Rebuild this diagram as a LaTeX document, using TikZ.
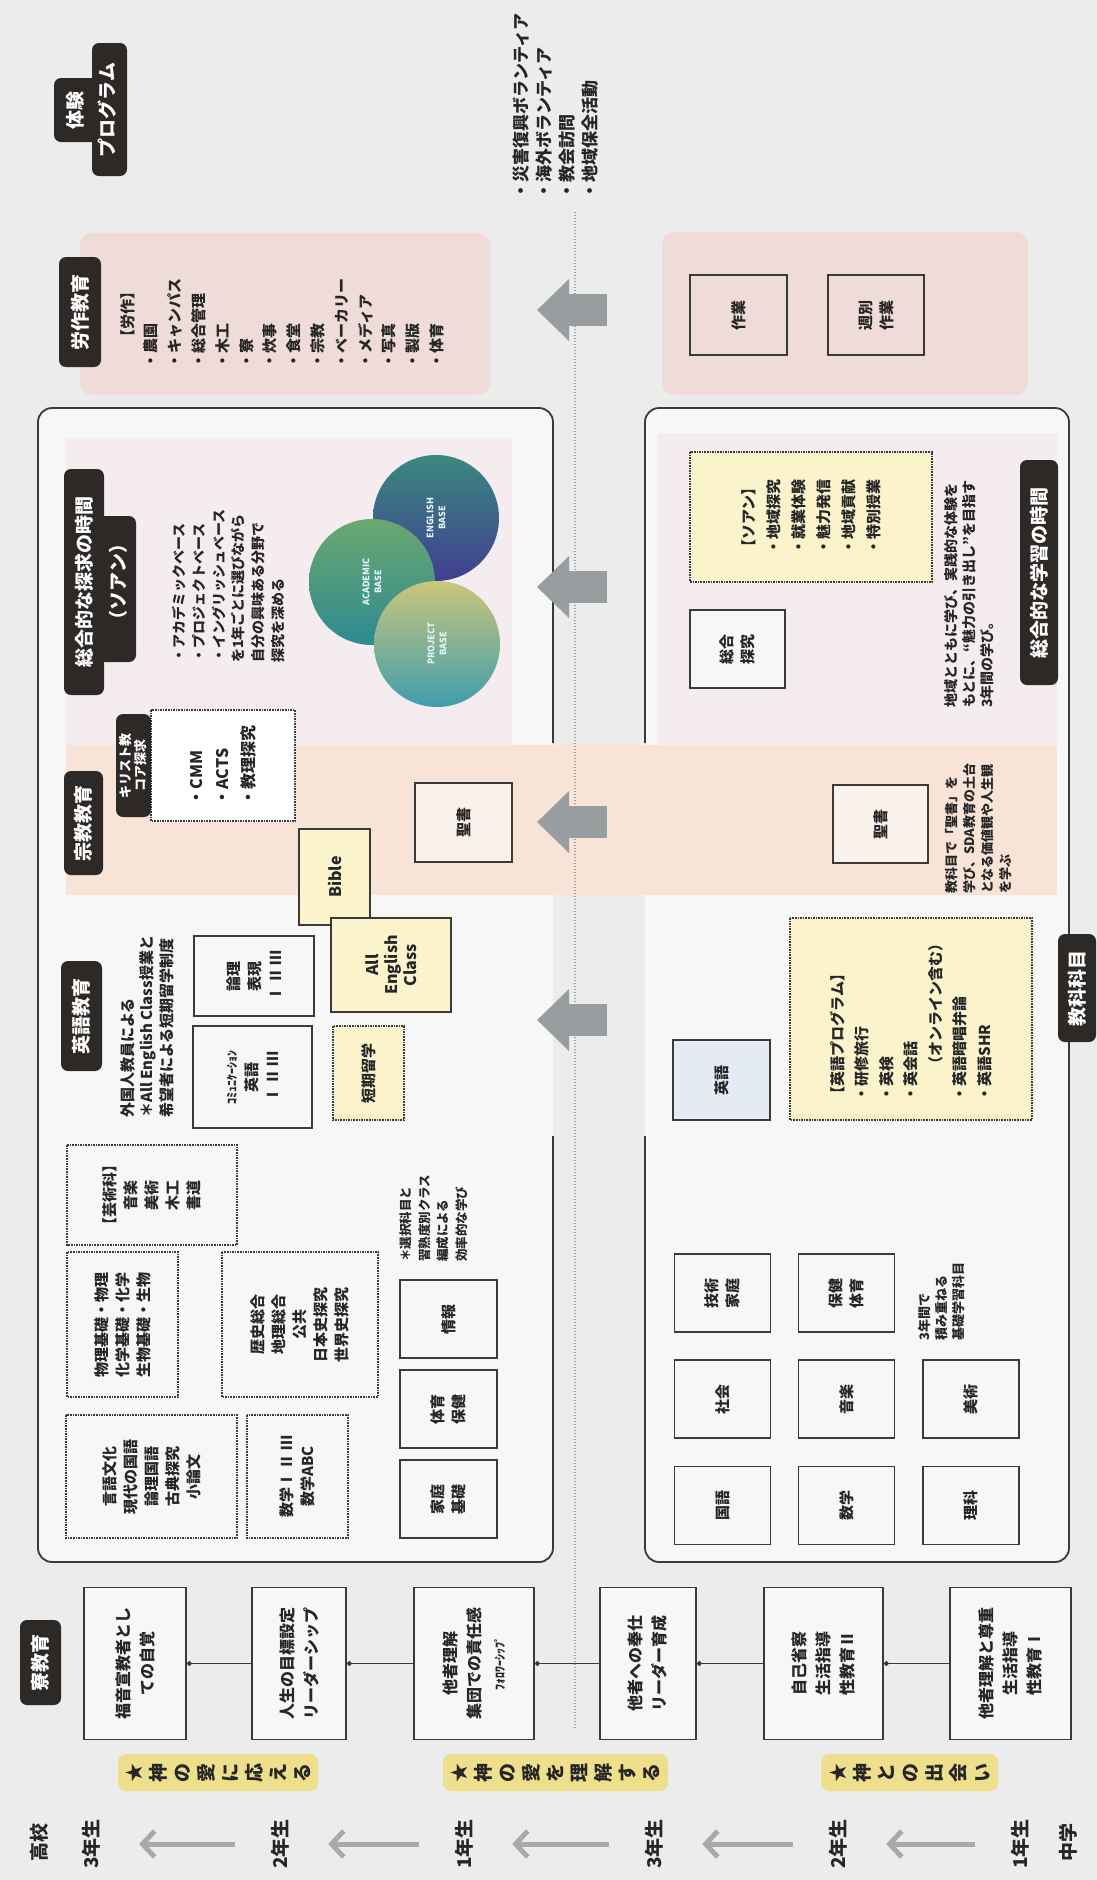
\documentclass[tikz,border=0pt]{standalone}
\usepackage{fontspec}
\setmainfont{Noto Sans CJK JP}
\usetikzlibrary{arrows.meta}
\newcommand\myfs[2]{\fontsize{#1}{#2}\selectfont}
\definecolor{bgc}{HTML}{ECECEC}
\definecolor{boxw}{HTML}{F7F7F7}
\definecolor{linec}{HTML}{3A3A3A}
\definecolor{txtc}{HTML}{262626}
\definecolor{tagc}{HTML}{2D2927}
\definecolor{yel}{HTML}{FAF3CC}
\definecolor{ylw}{HTML}{EEDF8C}
\definecolor{pinkp}{HTML}{EFDCD8}
\definecolor{peach}{HTML}{F8E3D7}
\definecolor{sogop}{HTML}{F4ECEF}
\definecolor{arrc}{HTML}{A6AAAD}
\definecolor{bigc}{HTML}{989DA0}
\definecolor{engT}{HTML}{3A897F}
\definecolor{engB}{HTML}{403E90}
\definecolor{acaT}{HTML}{6BA76F}
\definecolor{acaB}{HTML}{2D8A91}
\definecolor{proT}{HTML}{CBC679}
\definecolor{proB}{HTML}{3F9DAD}
\definecolor{ltblue}{HTML}{E4EBF4}
\definecolor{divc}{HTML}{A0A0A0}
\begin{document}
\begin{tikzpicture}[x=1pt,y=-1pt,
  sz/.style 2 args={minimum width=#2, minimum height=#1},
  every node/.style={text=txtc},
  sbox/.style={rotate=90, draw=linec, line width=1.6pt, fill=boxw, align=center, inner sep=1pt, font=\bfseries\myfs{15}{21}},
  dbox/.style={sbox, densely dotted},
  tag/.style={rotate=90, fill=tagc, text=white, rounded corners=7pt, inner sep=2pt, align=center, font=\bfseries\myfs{19}{22}},
  ttext/.style={rotate=90, text=white, inner sep=0pt, align=center, font=\bfseries\myfs{19}{32}},
  ylab/.style={rotate=90, fill=ylw, rounded corners=8pt, align=center, inner sep=1pt, font=\bfseries\myfs{19}{24}},
  ltxt/.style={rotate=90, anchor=north west, align=left, inner sep=0pt, font=\bfseries\myfs{15}{23}},
  grade/.style={rotate=90, inner sep=2pt, font=\bfseries\myfs{19}{22}},
  panel/.style={rotate=90, fill=pinkp, rounded corners=12pt, inner sep=0pt},
  ctext/.style={rotate=90, align=center, text=white!88!cyan, font=\bfseries\myfs{9}{12}},
  circ/.style={circle, minimum size=126pt, inner sep=0pt},
  frame/.style={draw=linec, line width=1.8pt, rounded corners=14pt},
  conn/.style={draw=linec, line width=1.3pt, {Circle[length=5pt]}-},
  tl/.style={draw=arrc, line width=5pt, -{Straight Barb[length=12pt,width=26pt]}, shorten <=34pt, shorten >=37pt},
  bigarr/.style={draw=bigc, line width=32pt, -{Triangle[length=32pt,width=60pt]}}
]
\fill[bgc] (0,0) rectangle (1097,1880);
\useasboundingbox (0,0) rectangle (1097,1880);

% panels and frames
\node[panel, sz={410}{162}] (hslab) at (285,314) {};
\node[panel, sz={366}{163}] (mslab) at (845,313.5) {};
\fill[boxw, rounded corners=14pt] (38,408) rectangle (553,1562);
\fill[boxw, rounded corners=14pt] (645,408) rectangle (1069,1562);
\fill[sogop] (66,438) rectangle (512,745);
\fill[sogop] (657,433) rectangle (1057,745);
\fill[peach] (66,745) rectangle (1057,895);
\draw[frame] (553,743) -- (553,408) -- (38,408) -- (38,1562) -- (553,1562) -- (553,1136);
\draw[frame] (645,743) -- (645,408) -- (1069,408) -- (1069,1562) -- (645,1562) -- (645,1136);
\draw[divc, line width=2.2pt, dash pattern=on 1.2pt off 1.8pt] (575,212) -- (575,1730);

% tags
\fill[tagc, rounded corners=7pt] (54,78) rectangle (100,142);
\fill[tagc, rounded corners=7pt] (92,43) rectangle (127,176);
\node[ttext] (tTaiken) at (91,110) {体験\\プログラム};
\node[tag, sz={42}{110}] (tRosaku) at (80,312) {労作教育};
\fill[tagc, rounded corners=7pt] (64,469) rectangle (104,695);
\fill[tagc, rounded corners=7pt] (98,516) rectangle (136,662);
\node[ttext, font=\bfseries\myfs{19}{34}] (tSogo) at (101,582) {総合的な探求の時間\\（ソアン）};
\node[tag, sz={39}{104}] (tShukyo) at (83.5,823) {宗教教育};
\node[tag, sz={41}{110}] (tEigo) at (81.5,1016) {英語教育};
\node[tag, sz={41}{85}] (tRyo) at (40.5,1662.5) {寮教育};

% experience program list
\node[ltxt, font=\bfseries\myfs{17}{23}] (taikenList) at (513,200) {・災害復興ボランティア\\・海外ボランティア\\・教会訪問\\・地域保全活動};

% labour list
\node[ltxt, font=\bfseries\myfs{15}{23.8}] (rosakuList) at (120,369) {\hspace*{1.6em}【労作】\\・農園\\・キャンパス\\・総合管理\\・木工\\・寮\\・炊事\\・食堂\\・宗教\\・ベーカリー\\・メディア\\・写真\\・製版\\・体育};
\node[sbox, sz={97}{80}, fill=pinkp] (bSagyo) at (738.5,315) {作業};
\node[sbox, sz={96}{80}, fill=pinkp] (bShubetsu) at (876,315) {週別\\作業};

% high school sogo
\node[ltxt, font=\bfseries\myfs{14}{19.8}] (sogoText) at (172,663) {・アカデミックベース\\・プロジェクトベース\\・イングリッシュベース\\を1年ごとに選びながら\\自分の興味ある分野で\\探究を深める};
\node[circ, top color=engT, bottom color=engB] (cEng) at (436,518) {};
\node[circ, top color=acaT, bottom color=acaB] (cAca) at (372,582) {};
\node[circ, top color=proT, bottom color=proB] (cPro) at (437,644) {};
\node[ctext] (tEng) at (cEng) {ENGLISH\\BASE};
\node[ctext] (tAca) at (cAca) {ACADEMIC\\BASE};
\node[ctext] (tPro) at (cPro) {PROJECT\\BASE};

% religion
\node[dbox, fill=white, sz={144}{111}, align=left, font=\bfseries\myfs{16}{26}] (bCMM) at (223,765.5) {・CMM\\・ACTS\\・教理探究};
\node[tag, sz={35}{103}, font=\bfseries\myfs{13}{15}, inner sep=1pt] (tChrist) at (133.5,765.5) {キリスト教\\コア探求};
\node[sbox, sz={97}{79}, fill=peach!50!white] (bSeishoH) at (463.5,822.5) {聖書};
\node[sbox, fill=yel, sz={71}{96}, font=\bfseries\myfs{16}{20}] (bBible) at (334.5,877) {Bible};

% english HS
\node[sbox, fill=yel, sz={120}{94}, font=\bfseries\myfs{16}{19}] (bAEC) at (391,965) {All\\English\\Class};
\node[sbox, sz={120}{80}] (bRonri) at (254,976) {論理\\表現\\Ⅰ Ⅱ Ⅲ};
\node[sbox, sz={119}{102}] (bComm) at (252.5,1077) {{\myfs{12}{21}ｺﾐｭﾆｹｰｼｮﾝ}\\英語\\Ⅰ Ⅱ Ⅲ};
\node[dbox, fill=yel, sz={71}{94}] (bTanki) at (368.5,1073) {短期留学};
\node[ltxt, font=\bfseries\myfs{15}{19.5}] (eNote) at (120,1118) {外国人教員による\\＊All English Class授業と\\希望者による短期留学制度};

% subjects HS
\node[dbox, sz={170}{100}] (bGei) at (152,1195) {【芸術科】\\音楽\\美術\\木工\\書道};
\node[dbox, sz={111}{145}] (bRika) at (122.5,1324.5) {物理基礎・物理\\化学基礎・化学\\生物基礎・生物};
\node[dbox, sz={156}{145}] (bShakai) at (300,1324.5) {歴史総合\\地理総合\\公共\\日本史探究\\世界史探究};
\node[dbox, sz={171}{123}] (bGengo) at (151.5,1476.5) {言語文化\\現代の国語\\論理国語\\古典探究\\小論文};
\node[dbox, sz={101}{123}] (bMath) at (297.5,1476.5) {数学Ⅰ Ⅱ Ⅲ\\数学ABC};
\node[sbox, sz={97}{78}] (bJoho) at (448.5,1319) {情報};
\node[sbox, sz={97}{78}] (bTaiiku) at (448.5,1409) {体育\\保健};
\node[sbox, sz={97}{78}] (bKatei) at (448.5,1499) {家庭\\基礎};
\node[ltxt, font=\bfseries\myfs{12.5}{18.5}] (selNote) at (400,1262) {＊選択科目と\\習熟度別クラス\\編成による\\効率的な学び};

% middle school sogo
\node[dbox, fill=yel, sz={242}{130}, align=left, font=\bfseries\myfs{15}{25}] (bSoan) at (811,517) {【ソアン】\\・地域探究\\・就業体験\\・魅力発信\\・地域貢献\\・特別授業};
\node[sbox, sz={95}{78}] (bSogoM) at (737.5,649) {総合\\探究};
\node[ltxt, font=\bfseries\myfs{14}{18}] (sogoMText) at (944,708) {地域とともに学び、実践的な体験を\\もとに、“魅力の引き出し”を目指す\\3年間の学び。};
\node[tag, sz={38}{225}] (tSogoM) at (1039,572.5) {総合的な学習の時間};

% middle school religion / english
\node[sbox, sz={95}{78}, fill=peach!50!white] (bSeishoM) at (880.5,824) {聖書};
\node[ltxt, font=\bfseries\myfs{13}{18}] (seishoText) at (945,894) {教科目で「聖書」を\\学び、SDA教育の土台\\となる価値観や人生観\\を学ぶ};
\node[dbox, fill=yel, sz={242}{202}, align=left, font=\bfseries\myfs{15}{24.5}] (bEProg) at (911,1019) {【英語プログラム】\\・研修旅行\\・英検\\・英会話\\\hspace*{2em}（オンライン含む）\\・英語暗唱弁論\\・英語SHR};
\node[sbox, sz={97}{80}, fill=ltblue] (bEigoM) at (721.5,1080) {英語};
\node[tag, sz={38}{108}] (tKyoka) at (1077,988) {教科科目};

% middle school subjects
\node[sbox, sz={96}{78}] (bGijutsu) at (722.5,1293) {技術\\家庭};
\node[sbox, sz={96}{78}] (bHoken) at (846.5,1293) {保健\\体育};
\node[sbox, sz={96}{78}] (bShakaiM) at (722.5,1399) {社会};
\node[sbox, sz={96}{78}] (bOngaku) at (846.5,1399) {音楽};
\node[sbox, sz={96}{78}] (bBijutsu) at (971,1399) {美術};
\node[sbox, sz={96}{78}] (bKokugo) at (722.5,1505.5) {国語};
\node[sbox, sz={96}{78}] (bSugaku) at (846.5,1505.5) {数学};
\node[sbox, sz={96}{78}] (bRikaM) at (971,1505.5) {理科};
\node[ltxt, font=\bfseries\myfs{13}{17}] (kisoNote) at (918,1341) {3年間で\\積み重ねる\\基礎学習科目};

% big arrows (middle school -> high school)
\coordinate (ba1s) at (607,310); \coordinate (ba1e) at (537,310);
\coordinate (ba2s) at (607,587); \coordinate (ba2e) at (537,587);
\coordinate (ba3s) at (607,822); \coordinate (ba3e) at (537,822);
\coordinate (ba4s) at (607,1020); \coordinate (ba4e) at (537,1020);
\draw[bigarr] (ba1s) -- (ba1e);
\draw[bigarr] (ba2s) -- (ba2e);
\draw[bigarr] (ba3s) -- (ba3e);
\draw[bigarr] (ba4s) -- (ba4e);

% dormitory education
\node[sbox, sz={102}{152}, font=\bfseries\myfs{16}{24}] (r1) at (135,1663.5) {福音宣教者とし\\ての自覚};
\node[sbox, sz={94}{152}, font=\bfseries\myfs{16}{24}] (r2) at (299,1663.5) {人生の目標設定\\リーダーシップ};
\node[sbox, sz={120}{152}, font=\bfseries\myfs{16}{24}] (r3) at (474,1663.5) {他者理解\\集団での責任感\\{\myfs{12}{24}ﾌｫﾛﾜｰｼｯﾌﾟ}};
\node[sbox, sz={96}{152}, font=\bfseries\myfs{16}{24}] (r4) at (648,1663.5) {他者への奉仕\\リーダー育成};
\node[sbox, sz={119}{152}, font=\bfseries\myfs{16}{24}] (r5) at (823.5,1663.5) {自己省察\\生活指導\\性教育Ⅱ};
\node[sbox, sz={121}{152}, font=\bfseries\myfs{16}{24}] (r6) at (1010.5,1663.5) {他者理解と尊重\\生活指導\\性教育Ⅰ};
\draw[conn] (r1) -- (r2);
\draw[conn] (r2) -- (r3);
\draw[conn] (r3) -- (r4);
\draw[conn] (r4) -- (r5);
\draw[conn] (r5) -- (r6);

% yellow labels (vertical writing)
\node[ylab, sz={200}{37}] (y1) at (218,1772.5) {★\\神\\の\\愛\\に\\応\\え\\る};
\node[ylab, sz={225}{37}] (y2) at (555.5,1772.5) {★\\神\\の\\愛\\を\\理\\解\\す\\る};
\node[ylab, sz={177}{37}] (y3) at (909.5,1772.5) {★\\神\\と\\の\\出\\会\\い};

% grades timeline
\node[grade] (gKo) at (39,1842) {高校};
\node[grade] (g3h) at (91,1844) {3年生};
\node[grade] (g2h) at (280,1844) {2年生};
\node[grade] (g1h) at (464,1844) {1年生};
\node[grade] (g3m) at (654,1844) {3年生};
\node[grade] (g2m) at (838,1844) {2年生};
\node[grade] (g1m) at (1020,1844) {1年生};
\node[grade] (gChu) at (1068,1842) {中学};
\draw[tl] (g2h) -- (g3h);
\draw[tl] (g1h) -- (g2h);
\draw[tl] (g3m) -- (g1h);
\draw[tl] (g2m) -- (g3m);
\draw[tl] (g1m) -- (g2m);
\end{tikzpicture}
\end{document}
